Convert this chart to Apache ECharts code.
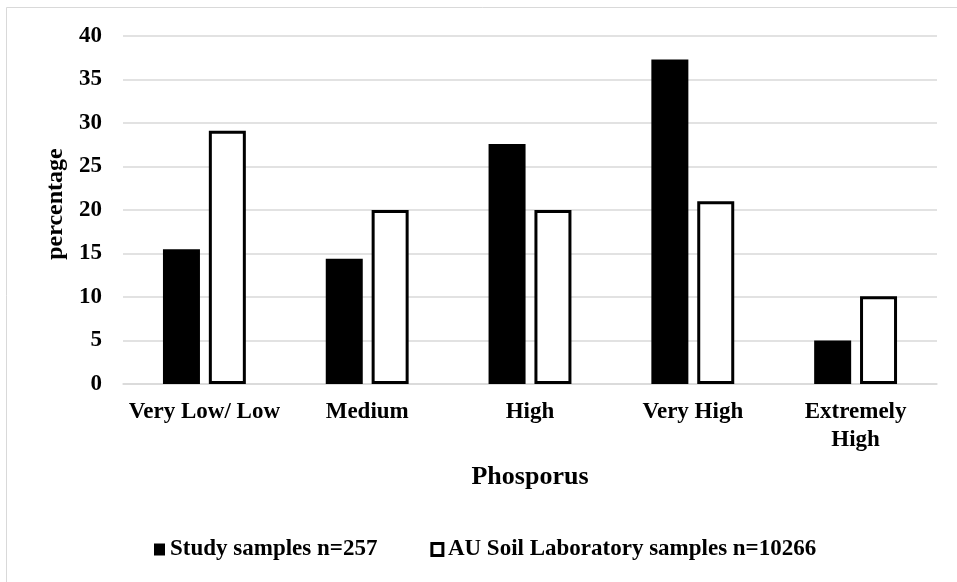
<!DOCTYPE html>
<html>
<head>
<meta charset="utf-8">
<script src="https://cdn.jsdelivr.net/npm/echarts@6/dist/echarts.min.js"></script>
<style>
  html, body { margin: 0; padding: 0; background: #fff; }
  #chart { width: 957px; height: 582px; }
</style>
</head>
<body>
<div id="chart"></div>
<script>
// values
var categories = ['Very Low/ Low', 'Medium', 'High', 'Very High', 'Extremely\nHigh'];
var studySamples = [15.5, 14.4, 27.6, 37.3, 5.0];
var labSamples = [29.1, 20.0, 20.0, 21.0, 10.1];
var seriesNames = ['Study samples n=257', 'AU Soil Laboratory samples n=10266'];
var yTicks = { min: 0, max: 40, step: 5 };

var font = 'Liberation Serif';
var chart = echarts.init(document.getElementById('chart'));

var option = {
  backgroundColor: '#fff',
  animation: false,
  textStyle: { fontFamily: font, color: '#000' },
  // thin frame round the chart area (only left/top edges are visible)
  graphic: [{
    type: 'rect',
    shape: { x: 6.5, y: 7.5, width: 1000, height: 1000 },
    style: { fill: 'none', stroke: '#d9d9d9', lineWidth: 1 },
    silent: true
  }],
  grid: { left: 123, right: 20, top: 36, bottom: 198 },
  legend: {
    left: 149,
    top: 533,
    itemWidth: 11,
    itemHeight: 12,
    itemGap: 53,
    textStyle: { fontFamily: font, fontWeight: 'bold', fontSize: 23, color: '#000' },
    data: [
      { name: seriesNames[0], icon: 'rect', itemStyle: { color: '#000', borderWidth: 0 } },
      { name: seriesNames[1], icon: 'rect', itemStyle: { color: '#fff', borderColor: '#000', borderWidth: 3 } }
    ]
  },
  xAxis: {
    type: 'category',
    data: categories,
    name: 'Phosporus',
    nameLocation: 'middle',
    nameGap: 80,
    nameTextStyle: { fontFamily: font, fontWeight: 'bold', fontSize: 26, color: '#000' },
    axisLine: { lineStyle: { color: '#d9d9d9', width: 1.5 } },
    axisTick: { show: false },
    axisLabel: {
      interval: 0,
      margin: 14,
      fontFamily: font,
      fontWeight: 'bold',
      fontSize: 23,
      lineHeight: 28,
      color: '#000'
    }
  },
  yAxis: {
    type: 'value',
    min: yTicks.min,
    max: yTicks.max,
    interval: yTicks.step,
    name: 'percentage',
    nameLocation: 'middle',
    nameGap: 52,
    nameTextStyle: { fontFamily: font, fontWeight: 'bold', fontSize: 24, color: '#000', padding: [0, 0, 0, 12] },
    axisLine: { show: false },
    axisTick: { show: false },
    splitLine: { lineStyle: { color: '#d9d9d9', width: 1.5 } },
    axisLabel: { margin: 21, fontFamily: font, fontWeight: 'bold', fontSize: 23, color: '#000' }
  },
  series: [
    {
      name: seriesNames[0],
      type: 'bar',
      barWidth: 37,
      barGap: '24%',
      itemStyle: { color: '#000' },
      data: studySamples
    },
    {
      name: seriesNames[1],
      type: 'bar',
      barWidth: 37,
      barGap: '24%',
      itemStyle: { color: '#fff', borderColor: '#000', borderWidth: 3 },
      data: labSamples
    }
  ]
};

chart.setOption(option);
</script>
</body>
</html>
